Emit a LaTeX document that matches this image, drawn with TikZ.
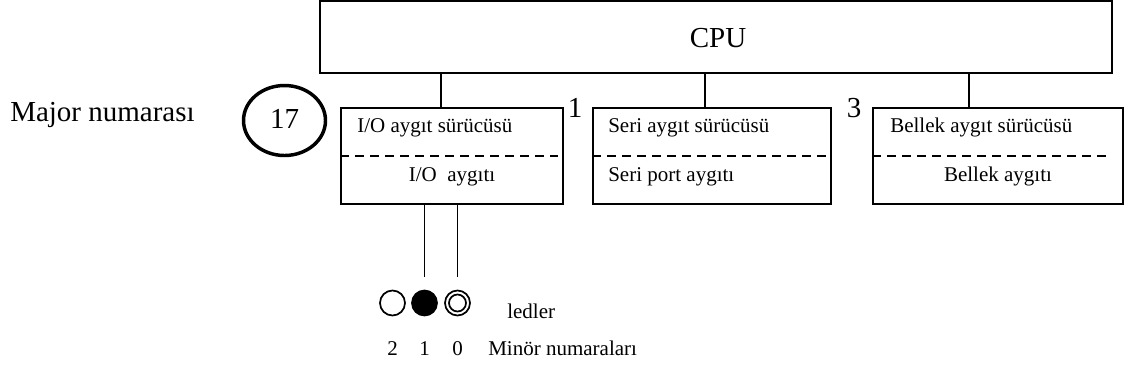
\documentclass[tikz,border=0pt]{standalone}
\usepackage{fontspec}
\setmainfont{Liberation Serif}
\usetikzlibrary{shapes.geometric}

\tikzset{
  px/.style={x=0.75pt,y=-0.75pt},
  box/.style={draw,line width=1.5pt,inner sep=0pt,minimum height=96*0.75pt},
  wire/.style={line width=1.4pt},
  sep/.style={line width=1.3pt,dash pattern=on 6.75pt off 4.5pt},
  small/.style={font=\fontsize{15.75}{18}\selectfont,inner sep=0pt},
  big/.style={font=\fontsize{21.75}{26}\selectfont,inner sep=0pt},
  led/.style={draw,circle,line width=1.3pt,minimum size=25*0.75pt,inner sep=0pt}
}

\begin{document}
\begin{tikzpicture}[px]
\useasboundingbox (0,0) rectangle (1128,376);

% processor
\node[box,minimum width=792*0.75pt,minimum height=72*0.75pt] (cpu) at (716,37) {};
\node[big,anchor=base] (cputxt) at (718,47) {CPU};

% driver / device boxes
\node[box,minimum width=222*0.75pt] (b1) at (452,156) {};
\node[box,minimum width=238*0.75pt] (b2) at (712,156) {};
\node[box,minimum width=250*0.75pt] (b3) at (998,156) {};

% dashed separators between driver and device
\draw[sep] (b1.west) -- ([xshift=-6*0.75pt]b1.east);
\draw[sep] (b2.west) -- ([xshift=-6*0.75pt]b2.east);
\draw[sep] (b3.west) -- ([xshift=-18*0.75pt]b3.east);

% box texts
\node[small,anchor=base west] (d1) at (357,132) {I/O aygıt sürücüsü};
\node[small,anchor=base] (v1) at (452,181) {I/O\ \ aygıtı};
\node[small,anchor=base west] (d2) at (608,132) {Seri aygıt sürücüsü};
\node[small,anchor=base west] (v2) at (608,181) {Seri port aygıtı};
\node[small,anchor=base west] (d3) at (890,132) {Bellek aygıt sürücüsü};
\node[small,anchor=base] (v3) at (998,181) {Bellek aygıtı};

% bus lines from the processor
\coordinate (t1) at (441,73);
\coordinate (t2) at (705,73);
\coordinate (t3) at (969,73);
\draw[wire] (t1) -- (t1 |- b1.north);
\draw[wire] (t2) -- (t2 |- b2.north);
\draw[wire] (t3) -- (t3 |- b3.north);

% major numbers
\node[big,anchor=base] (n1) at (575,117) {1};
\node[big,anchor=base] (n3) at (854,117) {3};
\node[big,anchor=base west] (major) at (10,121) {Major numarası};
\node[draw,ellipse,line width=2.6pt,minimum width=82*0.75pt,minimum height=70*0.75pt,inner sep=0pt] (e17) at (284.5,120.5) {};
\node[big,anchor=base] (t17) at (284.5,128) {17};

% leds
\node[led] (l2) at (392.5,303) {};
\node[led,fill=black] (l1) at (424.5,303) {};
\node[led] (l0) at (457.5,303) {};
\node[draw,circle,line width=1.3pt,minimum size=17*0.75pt,inner sep=0pt] (l0in) at (l0) {};
\coordinate (w1) at (424.5,277);
\coordinate (w0) at (457.5,277);
\draw[wire] (b1.south -| w1) -- (w1);
\draw[wire] (b1.south -| w0) -- (w0);
\node[small,anchor=base west] (ledler) at (507,318) {ledler};

% minor numbers
\node[small,anchor=base] (m2) at (392.5,355) {2};
\node[small,anchor=base] (m1) at (424.5,355) {1};
\node[small,anchor=base] (m0) at (457.5,355) {0};
\node[small,anchor=base west] (minor) at (488,355) {Minör numaraları};
\end{tikzpicture}
\end{document}
